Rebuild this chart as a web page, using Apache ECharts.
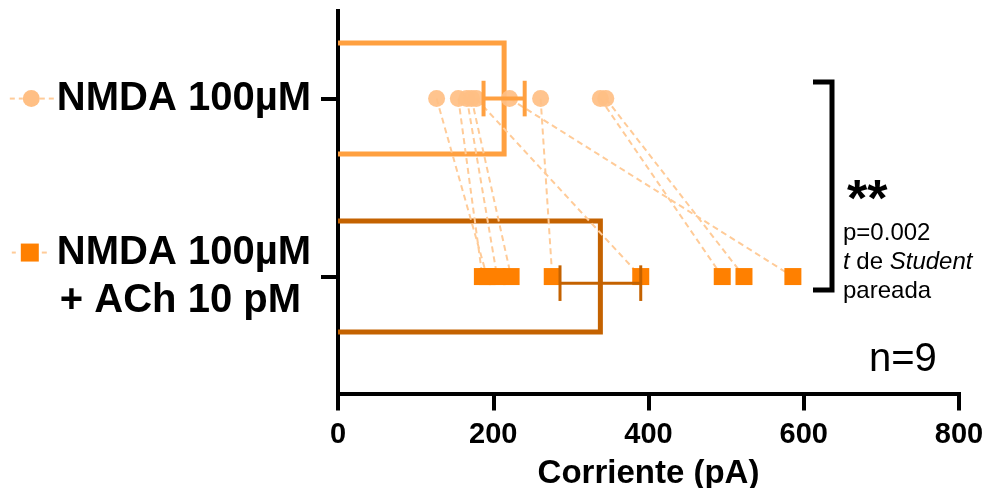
<!DOCTYPE html>
<html>
<head>
<meta charset="utf-8">
<script src="https://cdn.jsdelivr.net/npm/echarts@6/dist/echarts.min.js"></script>
<style>
html,body{margin:0;padding:0;background:#fff;}
#chart{width:987px;height:488px;}
</style>
</head>
<body>
<div id="chart"></div>
<script>
// ---- data ----
const categories = ['NMDA 100µM', 'NMDA 100µM', '+ ACh 10 pM'];
const rowPositions = [1, 2];
const nmdaValues = [127, 155, 166, 172, 178, 221, 261, 338, 345];
const achValues  = [192, 186, 205, 223, 390, 586, 276, 495, 523];
const barMeans = [214, 338];
const barSem = [26.5, 52];
const xTickLabels = ['0', '200', '400', '600', '800'];
const xAxisName = 'Corriente (pA)';
const annotation = { stars: '**', p: 'p=0.002', test1: 't', test2: ' de ', test3: 'Student', test4: 'pareada', n: 'n=9' };

// ---- styles ----
const FONT = '"Liberation Sans", Arial, sans-serif';
const circleColor = '#FFBF84';
const squareColor = '#FF8000';
const pairLineColor = '#FFCB98';
const barColors = ['#FFA040', '#C46200'];
const errWidths = [4, 3];
const errOffsets = [0, 0.037];

const chart = echarts.init(document.getElementById('chart'));

const pairSeries = nmdaValues.map((v, i) => ({
  type: 'line',
  data: [[v, rowPositions[0]], [achValues[i], rowPositions[1]]],
  showSymbol: false,
  symbol: 'none',
  silent: true,
  z: 3,
  lineStyle: { color: pairLineColor, width: 2, type: [6, 4] }
}));

const barData = barMeans.map((m, i) => [m, rowPositions[i]]);
const errData = barMeans.map((m, i) => [m, barSem[i], rowPositions[i] + errOffsets[i]]);

const option = {
  animation: false,
  backgroundColor: '#fff',
  grid: { left: 338, right: 28, top: 11, bottom: 94.5, containLabel: false, outerBoundsMode: 'none' },
  xAxis: {
    type: 'value', min: 0, max: 800, interval: 200,
    name: xAxisName, nameLocation: 'middle', nameGap: 64,
    nameTextStyle: { fontFamily: FONT, fontWeight: 'bold', fontSize: 33, color: '#000' },
    axisLine: { show: true, lineStyle: { color: '#000', width: 4, cap: 'square' } },
    axisTick: { show: true, length: 17, lineStyle: { color: '#000', width: 4 } },
    axisLabel: {
      margin: 27, fontFamily: FONT, fontWeight: 'bold', fontSize: 29, color: '#000',
      formatter: v => xTickLabels[Math.round(v / 200)] ?? ''
    },
    splitLine: { show: false }
  },
  yAxis: {
    type: 'value', inverse: true, min: 0.508, max: 2.657,
    axisLine: { show: true, lineStyle: { color: '#000', width: 4, cap: 'square' } },
    axisTick: { show: true, length: 17, customValues: rowPositions, lineStyle: { color: '#000', width: 4 } },
    splitLine: { show: false },
    axisLabel: {
      customValues: rowPositions,
      margin: 27,
      formatter: function (v) {
        if (Math.abs(v - 1) < 1e-6) {
          return '{d|}{g|}{d4|}{c|}{d|}{g|}{d|}{g3|}{t|' + categories[0] + '}';
        }
        return '{d4|}{g5|}{s|}{g3|}{d|}{g10|}{t|' + categories[1] + '}\n{t|' + categories[2] + '}{g10|}';
      },
      rich: {
        t: { fontFamily: FONT, fontWeight: 'bold', fontSize: 40, color: '#000', lineHeight: 48 },
        d: { width: 5, height: 2, backgroundColor: pairLineColor },
        d4: { width: 4, height: 2, backgroundColor: pairLineColor },
        g: { width: 4, height: 2 },
        g3: { width: 3, height: 2 },
        g5: { width: 5, height: 2 },
        g10: { width: 10, height: 2 },
        c: { width: 17, height: 17, borderRadius: 8.5, backgroundColor: circleColor },
        s: { width: 18, height: 18, backgroundColor: squareColor }
      }
    }
  },
  series: [
    {
      type: 'custom',
      z: 2,
      silent: true,
      data: barData,
      renderItem: function (params, api) {
        const v = api.value(0), r = api.value(1);
        const tl = api.coord([0, r - 0.312]);
        const br = api.coord([v, r + 0.312]);
        return {
          type: 'polyline',
          shape: { points: [[tl[0], tl[1]], [br[0], tl[1]], [br[0], br[1]], [tl[0], br[1]]] },
          style: { stroke: barColors[params.dataIndex], lineWidth: 5, fill: null, lineJoin: 'miter' }
        };
      }
    },
    ...pairSeries,
    {
      type: 'scatter', z: 4, silent: true,
      data: nmdaValues.map(v => [v, rowPositions[0]]),
      symbol: 'circle', symbolSize: 17,
      itemStyle: { color: circleColor, opacity: 0.92 }
    },
    {
      type: 'scatter', z: 4, silent: true,
      data: achValues.map(v => [v, rowPositions[1]]),
      symbol: 'rect', symbolSize: 17,
      itemStyle: { color: squareColor, opacity: 1 }
    },
    {
      type: 'custom',
      z: 5,
      silent: true,
      data: errData,
      renderItem: function (params, api) {
        const m = api.value(0), s = api.value(1), r = api.value(2);
        const a = api.coord([m - s, r]);
        const b = api.coord([m + s, r]);
        const t = api.coord([m, r - 0.1])[1];
        const bt = api.coord([m, r + 0.1])[1];
        const style = { stroke: barColors[params.dataIndex], lineWidth: errWidths[params.dataIndex] };
        return {
          type: 'group',
          children: [
            { type: 'line', shape: { x1: a[0], y1: a[1], x2: b[0], y2: b[1] }, style: style },
            { type: 'line', shape: { x1: a[0], y1: t, x2: a[0], y2: bt }, style: style },
            { type: 'line', shape: { x1: b[0], y1: t, x2: b[0], y2: bt }, style: style }
          ]
        };
      }
    }
  ],
  graphic: [
    {
      type: 'polyline', silent: true,
      shape: { points: [[813, 82], [832, 82], [832, 290], [813, 290]] },
      style: { stroke: '#000', lineWidth: 5, fill: null, lineJoin: 'miter' }
    },
    {
      type: 'text', x: 847, y: 201.5, silent: true,
      style: { text: annotation.stars, fontFamily: FONT, fontWeight: 'bold', fontSize: 52, fill: '#000', align: 'left', verticalAlign: 'middle' }
    },
    {
      type: 'text', x: 843, y: 219, silent: true,
      style: {
        text: annotation.p + '\n{i|' + annotation.test1 + '}' + annotation.test2 + '{i|' + annotation.test3 + '}\n' + annotation.test4,
        fontFamily: FONT, fontSize: 24, lineHeight: 29, fill: '#000', align: 'left', verticalAlign: 'top',
        rich: { i: { fontFamily: FONT, fontSize: 24, fontStyle: 'italic', lineHeight: 29, fill: '#000' } }
      }
    },
    {
      type: 'text', x: 869, y: 360, silent: true,
      style: { text: annotation.n, fontFamily: FONT, fontSize: 40, fill: '#000', align: 'left', verticalAlign: 'middle' }
    }
  ]
};
chart.setOption(option);
</script>
</body>
</html>
